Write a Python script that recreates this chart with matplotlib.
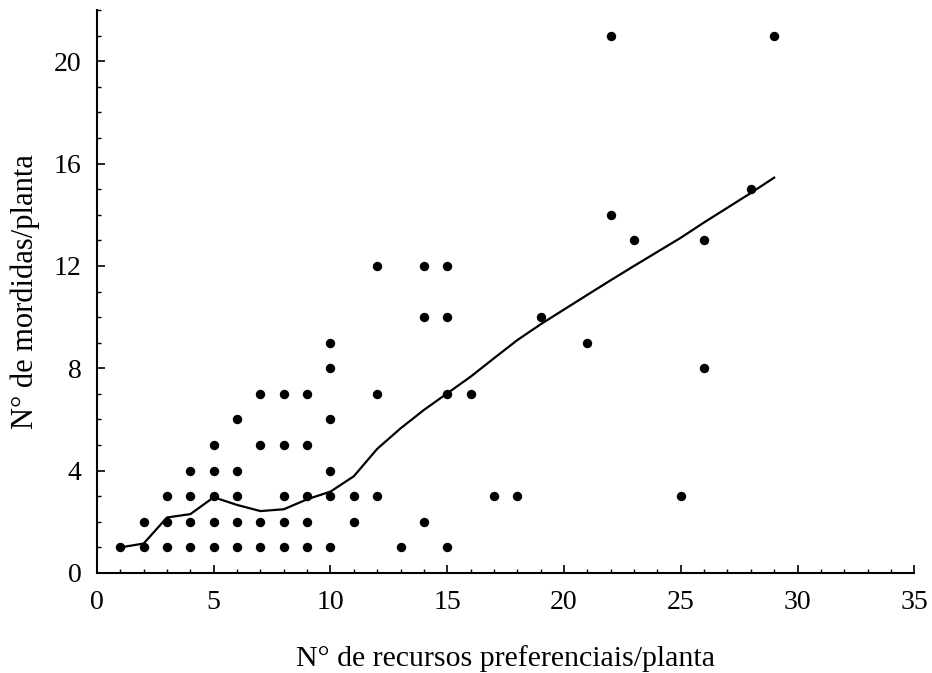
import matplotlib.pyplot as plt
import numpy as np

plt.rcParams['font.family'] = ['Liberation Serif', 'DejaVu Serif']

# scatter data: resources per plant (x) and bites per plant (y)
rec_x = [1,
         2, 2,
         3, 3, 3,
         4, 4, 4, 4,
         5, 5, 5, 5, 5,
         6, 6, 6, 6, 6,
         7, 7, 7, 7,
         8, 8, 8, 8, 8,
         9, 9, 9, 9, 9,
         10, 10, 10, 10, 10, 10,
         11, 11,
         12, 12, 12,
         13,
         14, 14, 14,
         15, 15, 15, 15,
         16, 17, 18, 19, 21,
         22, 22, 23, 25, 26, 26, 28, 29]
mord_y = [1,
          1, 2,
          1, 2, 3,
          1, 2, 3, 4,
          1, 2, 3, 4, 5,
          1, 2, 3, 4, 6,
          1, 2, 5, 7,
          1, 2, 3, 5, 7,
          1, 2, 3, 5, 7,
          1, 3, 4, 6, 8, 9,
          2, 3,
          3, 7, 12,
          1,
          2, 10, 12,
          1, 7, 10, 12,
          7, 3, 3, 10, 9,
          14, 21, 13, 3, 13, 8, 15, 21]

# smoothed trend line
fit_x = [1, 2, 3, 4, 5, 6, 7, 8, 9, 10, 11, 12, 13, 14, 15, 16, 17, 18, 19,
         21, 22, 23, 25, 26, 28, 29]
fit_y = [1.0, 1.15, 2.17, 2.3, 2.96, 2.66, 2.42, 2.49, 2.88, 3.18, 3.78, 4.85,
         5.65, 6.37, 7.02, 7.67, 8.39, 9.1, 9.72, 10.87, 11.44, 12.0, 13.1,
         13.7, 14.85, 15.45]

fig = plt.figure(figsize=(9.32, 6.73), dpi=100)
ax = fig.add_axes([0.104, 0.1486, 0.877, 0.8365])

ax.scatter(rec_x, mord_y, s=46, color='black', zorder=3, linewidths=0)
ax.plot(fit_x, fit_y, color='black', lw=1.6, zorder=2)

ax.set_xlim(0, 35)
ax.set_ylim(0, 22)
ax.set_xticks(np.arange(0, 36, 5))
ax.set_xticks(np.arange(0, 36, 1), minor=True)
ax.set_yticks(np.arange(0, 21, 4))
ax.set_yticks(np.arange(0, 23, 1), minor=True)

ax.spines['right'].set_color('none')
ax.spines['top'].set_color('none')
ax.spines['left'].set_linewidth(1.5)
ax.spines['bottom'].set_linewidth(1.5)
ax.tick_params(which='major', direction='in', length=6, width=1.2,
               labelsize=20)
ax.tick_params(axis='x', which='major', pad=12)
ax.tick_params(axis='y', which='major', pad=11)
ax.tick_params(which='minor', direction='in', length=3, width=1.0)

ax.set_xlabel('N° de recursos preferenciais/planta', fontsize=21.5, labelpad=22)
ax.set_ylabel('N° de mordidas/planta', fontsize=22, labelpad=10)

fig.savefig('out.png', dpi=100)
